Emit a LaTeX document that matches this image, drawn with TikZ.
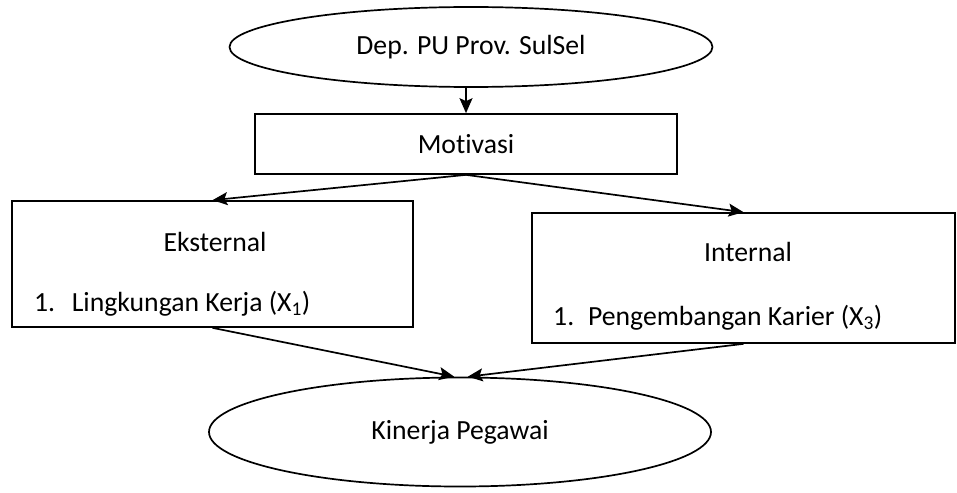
\documentclass[tikz,border=0pt]{standalone}
\usepackage{fontspec}
\setmainfont{Carlito}[Ligatures=NoCommon]
\usetikzlibrary{arrows.meta,positioning,shapes.geometric}
\tikzset{%
   oval/.style={ellipse, draw=black, line width=1.7pt, inner sep=0mm},
   kotak/.style={rectangle, draw=black, line width=1.7pt, inner sep=0mm},
   teks/.style={inner sep=0mm},
   panah/.style={-{Stealth[length=15pt, width=13pt, inset=3pt]}, line width=1.7pt},
}

\begin{document}
\begin{tikzpicture}[x=1pt, y=-1pt, font=\fontsize{27.7}{33}\selectfont]
   \useasboundingbox (0,0) rectangle (957,492);
   \node[oval, minimum width=483pt, minimum height=80pt] (dep) at (471,47) {Dep. PU Prov. SulSel};
   \node[kotak, minimum width=422pt, minimum height=60pt] (mot) at (466,144) {Motivasi};
   \node[kotak, minimum width=401pt, minimum height=126pt] (eks) at (212.5,264) {};
   \node[kotak, minimum width=423pt, minimum height=130pt] (int) at (743.5,278) {};
   \node[oval, minimum width=502pt, minimum height=109pt] (kin) at (460,432) {Kinerja Pegawai};
   % isi kotak kiri dan kanan
   \node[teks] (eksjudul) at (215,242) {Eksternal};
   \node[teks, anchor=west] (x1) at (34,304) {1.\hspace{0.6em}Lingkungan Kerja (X\textsubscript{1})};
   \node[teks] (intjudul) at (748,252) {Internal};
   \node[teks, anchor=west] (x3) at (553,318) {1.\hspace{0.5em}Pengembangan Karier (X\textsubscript{3})};
   % panah
   \draw[panah] (dep.south -| mot.north) -- (mot.north);
   \draw[panah] (mot.south) -- (eks.north);
   \draw[panah] (mot.south) -- (int.north);
   \draw[panah] (eks.south) -- (kin.96);
   \draw[panah] (int.south) -- (kin.82);
\end{tikzpicture}
\end{document}
